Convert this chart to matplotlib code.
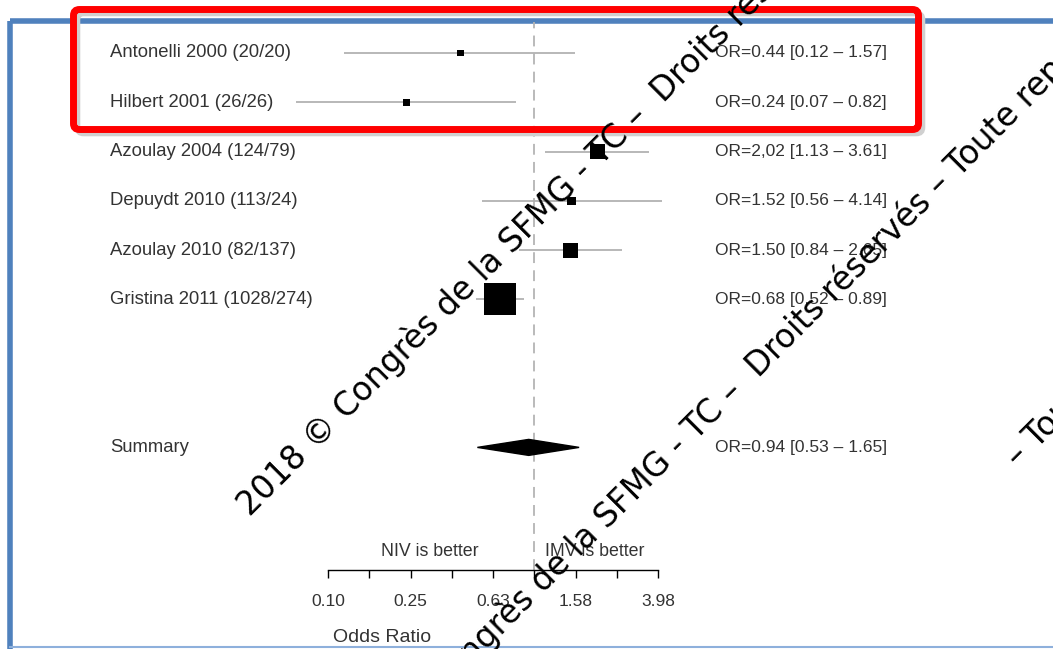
import numpy as np
import matplotlib
matplotlib.use("Agg")
import matplotlib.pyplot as plt
from matplotlib.patches import FancyBboxPatch, Polygon
from matplotlib import transforms

# --- data ---
studies = [
    "Antonelli 2000 (20/20)",
    "Hilbert 2001 (26/26)",
    "Azoulay 2004 (124/79)",
    "Depuydt 2010 (113/24)",
    "Azoulay 2010 (82/137)",
    "Gristina 2011 (1028/274)",
]
odds = [0.44, 0.24, 2.02, 1.52, 1.50, 0.68]
ci_low = [0.12, 0.07, 1.13, 0.56, 0.84, 0.52]
ci_high = [1.57, 0.82, 3.61, 4.14, 2.65, 0.89]
or_text = [
    "OR=0.44 [0.12 \u2013 1.57]",
    "OR=0.24 [0.07 \u2013 0.82]",
    "OR=2,02 [1.13 \u2013 3.61]",
    "OR=1.52 [0.56 \u2013 4.14]",
    "OR=1.50 [0.84 \u2013 2.65]",
    "OR=0.68 [0.52 \u2013 0.89]",
]
summary_or = 0.94
summary_low = 0.53
summary_high = 1.65
summary_text = "OR=0.94 [0.53 \u2013 1.65]"
tick_labels = ["0.10", "", "0.25", "", "0.63", "", "1.58", "", "3.98"]
watermark = ("2018 \u00a9 Congr\u00e8s de la SFMG - TC \u2013  Droits r\u00e9serv\u00e9s "
             "\u2013 Toute reproduction interdite")
watermark_tail = "\u2013 Toute reproduction interdite"

plt.rcParams['font.family'] = ['Liberation Sans', 'DejaVu Sans']

W, H = 1053, 649
fig = plt.figure(figsize=(W / 100, H / 100), dpi=100)
fig.patch.set_facecolor("white")

# background layer in pixel coordinates
bg = fig.add_axes([0, 0, 1, 1])
bg.set_xlim(0, W)
bg.set_ylim(H, 0)
bg.axis("off")

# slide frame (blue)
blue = "#4f81bd"
bg.plot([10, 10], [21, H], color=blue, lw=4, solid_capstyle="butt")
bg.plot([10, W], [21, 21], color=blue, lw=4, solid_capstyle="butt")
bg.plot([10, W], [647, 647], color="#8eb0dc", lw=1.5)

# forest plot axes: 0.10 -> x=328px, 3.98 -> x=658px, axis line at y=570px
row_h = 49.3
row0 = 53
ax_top, ax_bot = 22, 570
ax = fig.add_axes([328 / W, 1 - ax_bot / H, 330 / W, (ax_bot - ax_top) / H])
ax.patch.set_alpha(0)
ax.set_xscale("log")
ax.set_xlim(10 ** -1, 10 ** 0.6)
ax.set_ylim((ax_bot - row0) / row_h, (ax_top - row0) / row_h)

rows = np.arange(len(studies))
summary_row = 8

# weights from the confidence intervals -> box size
se = (np.log(ci_high) - np.log(ci_low)) / (2 * 1.96)
w = 1 / se ** 2
side_px = 32 * np.sqrt(w / w.max())

ax.axvline(1, color="#b4b4b4", lw=1.3, ls=(0, (6, 4)), zorder=1)
ax.hlines(rows, ci_low, ci_high, color="#acacac", lw=1.2, clip_on=False, zorder=2)
ax.scatter(odds, rows, marker="s", s=(side_px * 0.72) ** 2, color="black",
           linewidths=0, clip_on=False, zorder=3)

dh = 8 / row_h
diamond = Polygon([[summary_low, summary_row], [summary_or, summary_row - dh],
                   [summary_high, summary_row], [summary_or, summary_row + dh]],
                  closed=True, color="black", zorder=3)
ax.add_patch(diamond)

for s in ["top", "left", "right"]:
    ax.spines[s].set_visible(False)
ax.spines["bottom"].set_linewidth(1)
ax.set_yticks([])
ticks = 10 ** np.linspace(-1, 0.6, 9)
ax.set_xticks(ticks)
ax.set_xticklabels(tick_labels)
ax.xaxis.set_minor_locator(matplotlib.ticker.NullLocator())
ax.tick_params(axis="x", length=6, width=1, pad=11, labelsize=12.5,
               labelcolor="#333333")

# text columns (x in pixels, y in rows)
tr = transforms.blended_transform_factory(bg.transData, ax.transData)
txt = "#333333"
for r, name, ot in zip(rows, studies, or_text):
    ax.text(110, r, name, transform=tr, ha="left", va="center", fontsize=13.3, color=txt)
    ax.text(715, r, ot, transform=tr, ha="left", va="center", fontsize=12.5, color=txt)
ax.text(110, summary_row, "Summary", transform=tr, ha="left", va="center",
        fontsize=13.3, color=txt)
ax.text(715, summary_row, summary_text, transform=tr, ha="left", va="center",
        fontsize=12.5, color=txt)

# top overlay: annotations, red highlight, watermark
top = fig.add_axes([0, 0, 1, 1])
top.set_xlim(0, W)
top.set_ylim(H, 0)
top.axis("off")
top.patch.set_alpha(0)

top.text(430, 552, "NIV is better", ha="center", va="center", fontsize=12.8, color=txt)
top.text(595, 552, "IMV is better", ha="center", va="center", fontsize=12.8, color=txt)
top.text(333, 637, "Odds Ratio", ha="left", va="center", fontsize=14, color=txt)

shadow = FancyBboxPatch((77.5, 13.5), 845, 120, boxstyle="round,pad=0,rounding_size=6",
                        ec="#d0d0d0", fc="none", lw=4)
top.add_patch(shadow)
red = FancyBboxPatch((73.5, 9.5), 845, 120, boxstyle="round,pad=0,rounding_size=6",
                     ec="#ff0000", fc="none", lw=5)
top.add_patch(red)

wm = dict(rotation=45, rotation_mode="anchor", ha="left", va="baseline",
          fontsize=23.5, family="DejaVu Sans", color="black")
top.text(250, 517, watermark, **wm)
top.text(345, 792, watermark, **wm)
top.text(1018, 468, watermark_tail, **wm)

fig.savefig("out.png", dpi=100)
